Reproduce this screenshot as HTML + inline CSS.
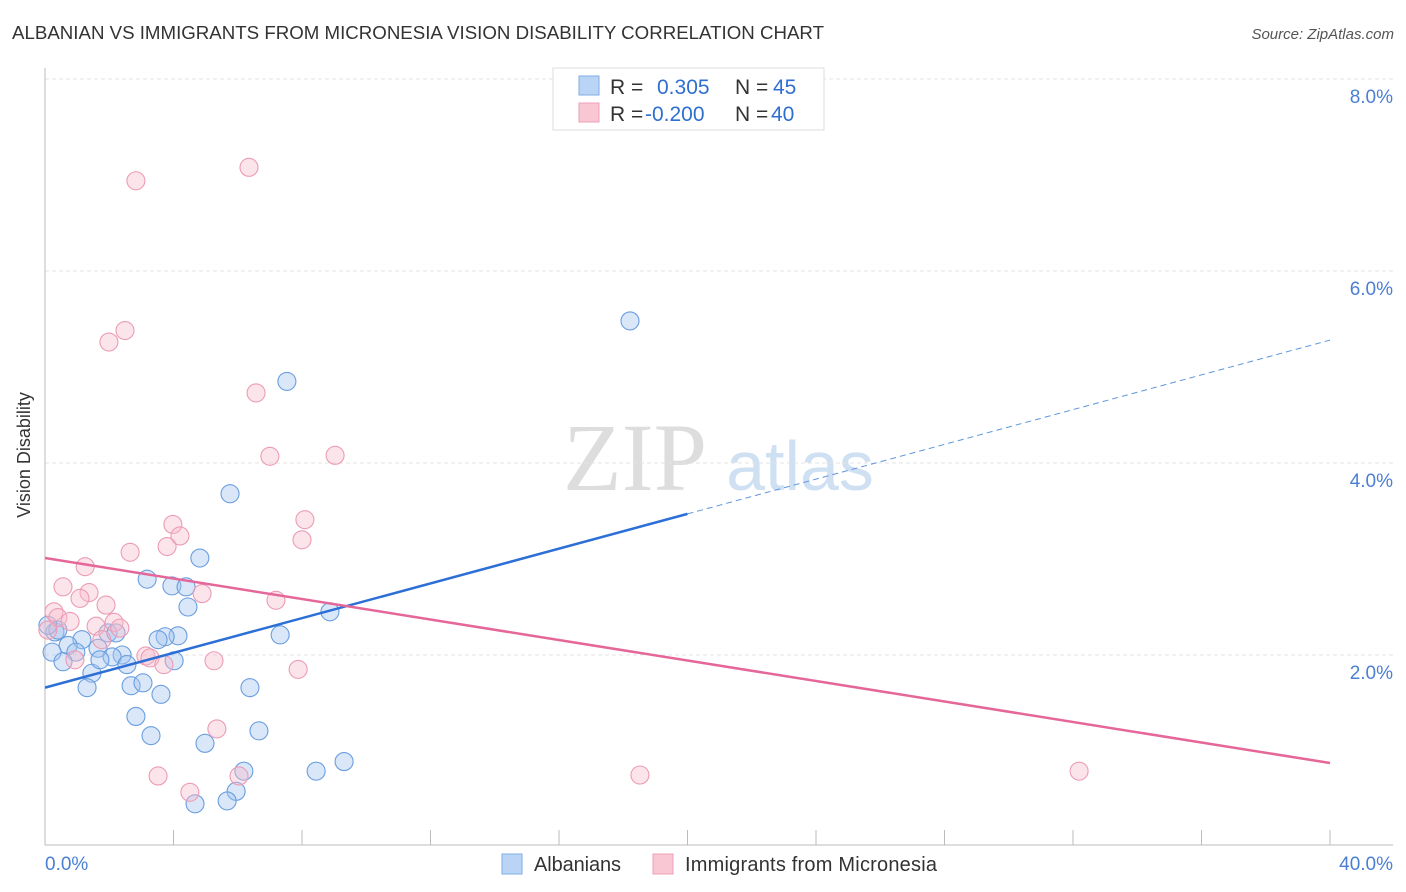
<!DOCTYPE html>
<html><head><meta charset="utf-8"><style>
body{margin:0;background:#fff;font-family:"Liberation Sans",sans-serif}
svg{display:block}
</style></head><body>
<svg id="chart" width="1406" height="892" xmlns="http://www.w3.org/2000/svg">
<text x="12" y="39" font-size="18.5" fill="#333" textLength="812" lengthAdjust="spacingAndGlyphs">ALBANIAN VS IMMIGRANTS FROM MICRONESIA VISION DISABILITY CORRELATION CHART</text>
<text x="1394" y="39" font-size="15" fill="#555" font-style="italic" text-anchor="end">Source: ZipAtlas.com</text>
<text x="30" y="455" font-size="18" fill="#333" transform="rotate(-90 30 455)" text-anchor="middle">Vision Disability</text>
<g><text x="635" y="490" font-size="96" fill="#ddd" font-family="Liberation Serif" text-anchor="middle">ZIP</text><text x="800" y="490" font-size="70" fill="#cfe0f3" text-anchor="middle">atlas</text></g>
<g id="grid"></g><g id="axes"></g><g id="marks"></g>
<g>
<rect x="553" y="68" width="271" height="62" fill="#fff" stroke="#ddd"/>
<rect x="579" y="76" width="20" height="19" fill="#b9d4f5" stroke="#7eaee6"/>
<rect x="579" y="103" width="20" height="19" fill="#f9c6d3" stroke="#eea0b6"/>
<text y="94" font-size="21" fill="#333"><tspan x="610">R =</tspan><tspan x="657" fill="#2f6fd0">0.305</tspan><tspan x="735">N =</tspan><tspan x="773" fill="#2f6fd0">45</tspan></text>
<text y="121" font-size="21" fill="#333"><tspan x="610">R =</tspan><tspan x="645" fill="#2f6fd0">-0.200</tspan><tspan x="735">N =</tspan><tspan x="771" fill="#2f6fd0">40</tspan></text>
</g>
<g>
<rect x="502" y="854" width="20" height="20" fill="#b9d4f5" stroke="#7eaee6"/>
<text x="534" y="871" font-size="20" fill="#333" textLength="87">Albanians</text>
<rect x="653" y="854" width="20" height="20" fill="#f9c6d3" stroke="#eea0b6"/>
<text x="685" y="871" font-size="20" fill="#333" textLength="252">Immigrants from Micronesia</text>
</g>
</svg>
<script>
const blueX=[18.21,7.53,5.76,4.82,3.18,3.95,4.39,4.45,8.87,7.32,0.31,0.40,1.96,2.21,4.14,3.74,3.52,1.15,0.72,1.65,0.96,0.22,2.40,2.09,0.56,4.02,2.55,1.46,1.31,2.68,3.05,3.61,6.38,2.83,3.30,6.66,4.98,9.31,8.44,6.19,5.95,5.67,4.67,0.09,1.71];
const blueY=[5.48,4.85,3.68,3.01,2.79,2.72,2.71,2.50,2.45,2.21,2.24,2.26,2.23,2.23,2.20,2.19,2.16,2.16,2.10,2.07,2.03,2.03,2.00,1.98,1.93,1.94,1.90,1.81,1.66,1.68,1.71,1.59,1.66,1.36,1.16,1.21,1.08,0.89,0.79,0.79,0.58,0.48,0.45,2.31,1.95];
const pinkX=[6.35,2.83,2.49,1.99,6.57,7.00,9.03,8.09,3.98,4.20,3.80,8.00,2.65,1.25,0.56,4.89,1.37,1.09,7.19,1.90,0.28,0.40,0.78,1.59,2.15,2.33,0.09,1.77,3.14,3.27,5.26,3.70,0.93,7.88,5.35,3.52,6.04,4.51,18.52,32.19];
const pinkY=[7.08,6.94,5.38,5.26,4.73,4.07,4.08,3.41,3.36,3.24,3.13,3.20,3.07,2.92,2.71,2.64,2.65,2.59,2.57,2.52,2.45,2.39,2.35,2.30,2.34,2.28,2.26,2.16,1.99,1.97,1.94,1.90,1.95,1.85,1.23,0.74,0.74,0.57,0.75,0.79];
const yTicks=[2,4,6,8];
const yTickLabels=["2.0%","4.0%","6.0%","8.0%"];
const blueTrend=[1.66,5.28]; const blueSolidEnd=20;
const pinkTrend=[3.01,0.875];
const NS="http://www.w3.org/2000/svg";
const xs=v=>45+v*32.125, ys=v=>847-v*96;
function mk(p,t,a){const e=document.createElementNS(NS,t);for(const k in a)e.setAttribute(k,a[k]);document.getElementById(p).appendChild(e);return e;}
yTicks.forEach((t,i)=>{
 const l=mk('grid','line',{x1:45,x2:1393,y1:ys(t),y2:ys(t),stroke:'#e3e3e3','stroke-dasharray':'4,3'});
 
 
 const tx=mk('grid','text',{x:1393,y:ys(t)+24,'font-size':19,fill:'#4a7fd4','text-anchor':'end'});
 tx.textContent=yTickLabels[i];
 
 
});
mk('axes','line',{x1:45,x2:45,y1:68,y2:845,stroke:'#bbb'});
mk('axes','line',{x1:45,x2:1393,y1:845,y2:845,stroke:'#bbb'});
for(let i=0;i<=10;i++){const t=mk('axes','line',{x1:xs(i*4),x2:xs(i*4),y1:830,y2:845,stroke:'#bbb'});}
let a=mk('axes','text',{x:45,y:870,'font-size':19,fill:'#4a7fd4'});a.textContent='0.0%';
a=mk('axes','text',{x:1393,y:870,'font-size':19,fill:'#4a7fd4','text-anchor':'end'});a.textContent='40.0%';
blueX.forEach((x,i)=>{const c=mk('marks','circle',{cx:xs(x),cy:ys(blueY[i]),r:9,fill:'rgba(160,196,240,0.4)',stroke:'#6a9edf','stroke-width':1.1});
 
 });
pinkX.forEach((x,i)=>{const c=mk('marks','circle',{cx:xs(x),cy:ys(pinkY[i]),r:9,fill:'rgba(247,188,206,0.4)',stroke:'#ec9cb5','stroke-width':1.1});
 
 });
const bAt=x=>blueTrend[0]+(blueTrend[1]-blueTrend[0])*x/40;
let l=mk('marks','line',{x1:xs(0),y1:ys(bAt(0)),x2:xs(blueSolidEnd),y2:ys(bAt(blueSolidEnd)),stroke:'#2c6fd6','stroke-width':2.5});

l=mk('marks','line',{x1:xs(blueSolidEnd),y1:ys(bAt(blueSolidEnd)),x2:xs(40),y2:ys(bAt(40)),stroke:'#5f96dc','stroke-width':1,'stroke-dasharray':'6,4'});

l=mk('marks','line',{x1:xs(0),y1:ys(pinkTrend[0]),x2:xs(40),y2:ys(pinkTrend[1]),stroke:'#e5679a','stroke-width':2.5});

</script>
</body></html>
